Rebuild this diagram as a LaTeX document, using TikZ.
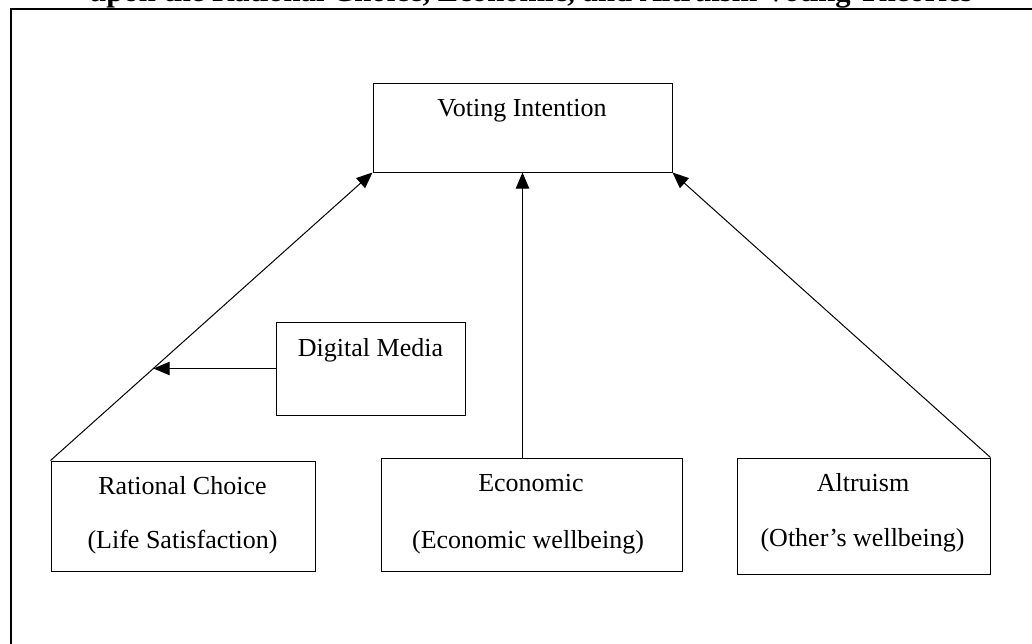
\documentclass[tikz,border=0pt]{standalone}
\usepackage{tikz}
\usetikzlibrary{arrows.meta, positioning}
\usepackage{fontspec}
\setmainfont{Liberation Serif}
\tikzset{%
	model box/.style={
		rectangle,
		draw,
		line width=0.75pt,
		inner sep=0pt
	},
	model text/.style={
		anchor=base,
		inner sep=0pt,
		font=\fontsize{19.5}{23}\selectfont
	},
	model arrow/.style={
		line width=0.75pt,
		-{Triangle[length=12pt, width=10pt]}
	},
}

\begin{document}
\begin{tikzpicture}[x=0.75pt, y=-0.75pt]
	\useasboundingbox (0,0) rectangle (1032,643);
	\clip (0,0) rectangle (1032,643);
	% caption, cut off by the page edge
	\node[model text, font=\fontsize{23}{27}\selectfont\bfseries] (caption) at (531,1.5) {upon the Rational Choice, Economic, and Altruism Voting Theories};
	\draw[line width=1.5pt] (11,8.5) rectangle (1060,680);
	% boxes
	\node[model box, minimum width=299*0.75pt, minimum height=89*0.75pt] (vote) at (522.5,127.5) {};
	\node[model box, minimum width=189*0.75pt, minimum height=93*0.75pt] (media) at (370.5,368.5) {};
	\node[model box, minimum width=264*0.75pt, minimum height=110*0.75pt] (rational) at (183,516) {};
	\node[model box, minimum width=301*0.75pt, minimum height=113*0.75pt] (econ) at (531.5,514.5) {};
	\node[model box, minimum width=253*0.75pt, minimum height=116*0.75pt] (altru) at (863.5,516) {};
	% labels
	\node[model text] (vote label) at (522,116.7) {Voting Intention};
	\node[model text] (media label) at (370.5,356) {Digital Media};
	\node[model text] (rational top) at (182.5,494) {Rational Choice};
	\node[model text] (rational bottom) at (182.5,548) {(Life Satisfaction)};
	\node[model text] (econ top) at (531,491.7) {Economic};
	\node[model text] (econ bottom) at (528,548) {(Economic wellbeing)};
	\node[model text] (altru top) at (863,491.7) {Altruism};
	\node[model text] (altru bottom) at (862.5,546) {(Other’s wellbeing)};
	% arrows
	\draw[model arrow] (rational.north west) -- coordinate[pos=0.32] (media target) (vote.south west);
	\draw[model arrow] (vote.south |- econ.north) -- (vote.south);
	\draw[model arrow] (altru.north east) -- (vote.south east);
	\draw[model arrow] (media.west) -- (media.west -| media target);
\end{tikzpicture}
\end{document}
